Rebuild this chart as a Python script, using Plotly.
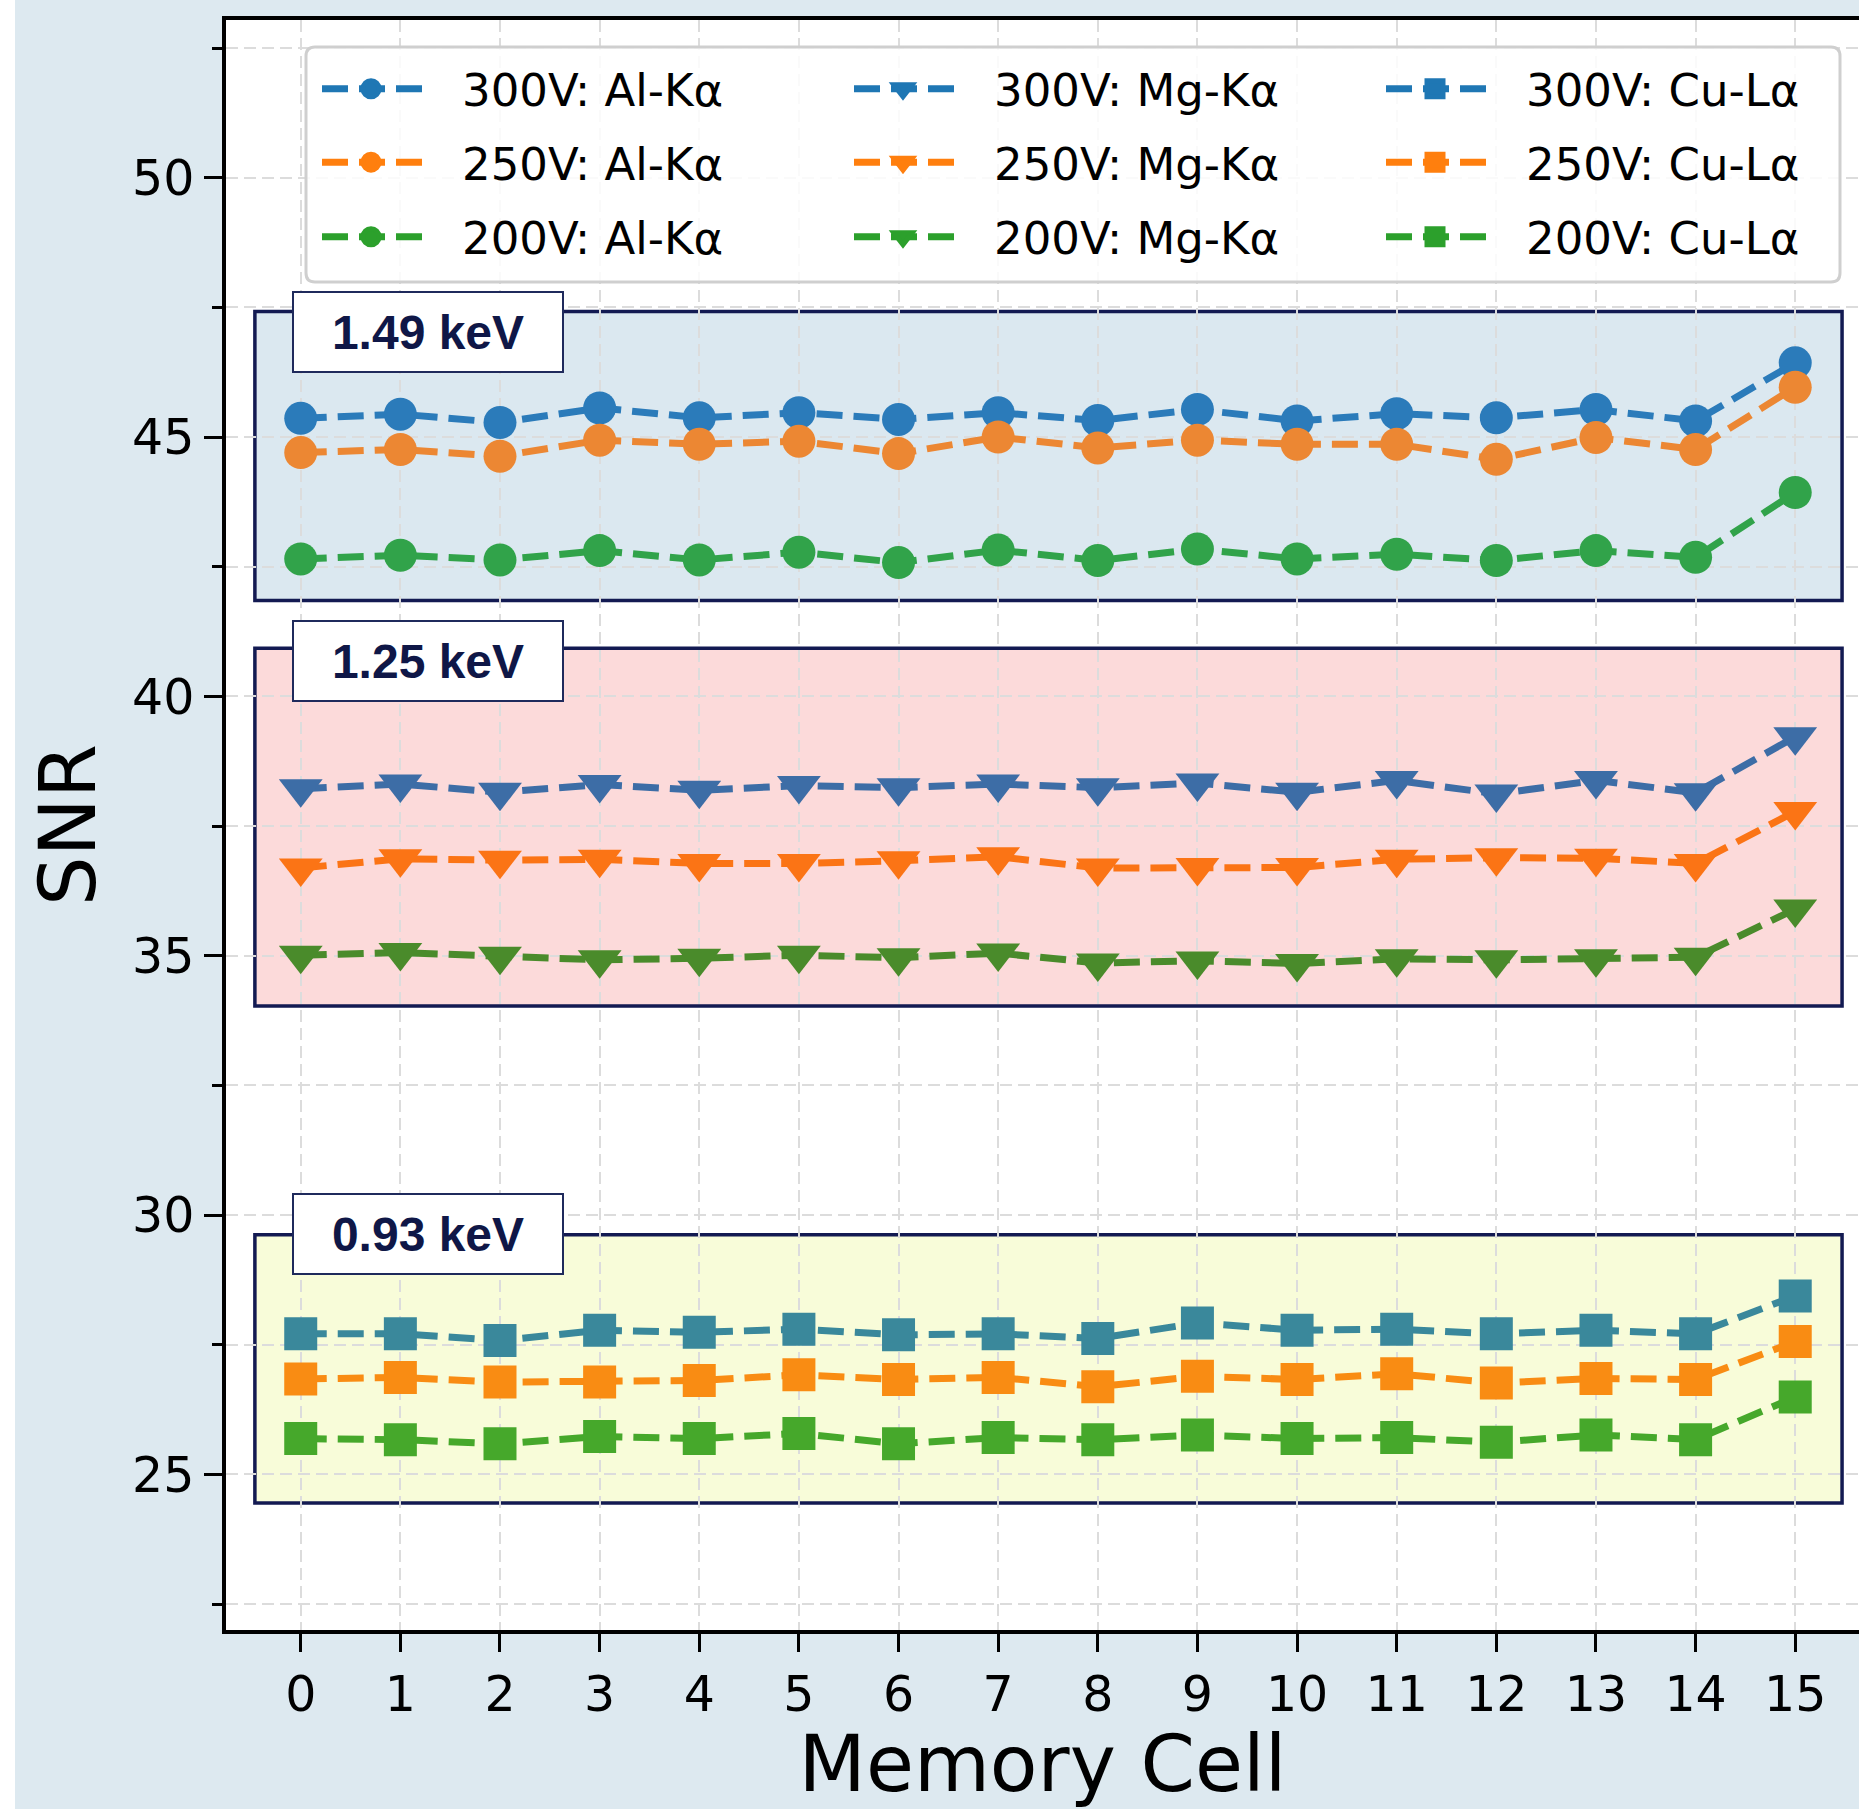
import plotly.graph_objects as go

# ---------------- data ----------------
cells = list(range(16))
cell_labels = [str(c) for c in cells]

al_300 = [45.36, 45.44, 45.28, 45.56, 45.37, 45.47, 45.34, 45.47, 45.32, 45.53, 45.31, 45.45, 45.37, 45.53, 45.31, 46.43]
al_250 = [44.70, 44.76, 44.63, 44.94, 44.86, 44.92, 44.68, 45.00, 44.79, 44.94, 44.86, 44.86, 44.57, 44.99, 44.76, 45.96]
al_200 = [42.65, 42.72, 42.63, 42.81, 42.63, 42.78, 42.58, 42.82, 42.62, 42.84, 42.65, 42.74, 42.62, 42.81, 42.68, 43.93]

mg_300 = [38.22, 38.31, 38.15, 38.30, 38.19, 38.28, 38.24, 38.31, 38.24, 38.33, 38.15, 38.38, 38.12, 38.38, 38.14, 39.22]
mg_250 = [36.69, 36.87, 36.84, 36.86, 36.78, 36.78, 36.83, 36.91, 36.69, 36.70, 36.70, 36.86, 36.89, 36.88, 36.78, 37.78]
mg_200 = [35.01, 35.06, 34.99, 34.92, 34.95, 35.01, 34.96, 35.05, 34.86, 34.90, 34.85, 34.94, 34.92, 34.94, 34.97, 35.90]

cu_300 = [27.71, 27.71, 27.58, 27.78, 27.74, 27.80, 27.69, 27.71, 27.62, 27.92, 27.78, 27.80, 27.71, 27.78, 27.71, 28.44]
cu_250 = [26.84, 26.87, 26.78, 26.78, 26.81, 26.92, 26.83, 26.87, 26.69, 26.89, 26.83, 26.94, 26.76, 26.85, 26.83, 27.56]
cu_200 = [25.69, 25.67, 25.59, 25.73, 25.69, 25.79, 25.59, 25.71, 25.67, 25.76, 25.69, 25.71, 25.62, 25.76, 25.67, 26.49]

voltages = ["300V", "250V", "200V"]
emission_lines = ["Al-Kα", "Mg-Kα", "Cu-Lα"]

region_labels = ["1.49 keV", "1.25 keV", "0.93 keV"]
region_low = [41.85, 34.03, 24.45]
region_high = [47.42, 40.93, 29.62]

y_ticks = [25, 30, 35, 40, 45, 50]

# ---------------- styling ----------------
series = {
    ("300V", "Al-Kα"): al_300, ("250V", "Al-Kα"): al_250, ("200V", "Al-Kα"): al_200,
    ("300V", "Mg-Kα"): mg_300, ("250V", "Mg-Kα"): mg_250, ("200V", "Mg-Kα"): mg_200,
    ("300V", "Cu-Lα"): cu_300, ("250V", "Cu-Lα"): cu_250, ("200V", "Cu-Lα"): cu_200,
}
legend_colors = {"300V": "#1f77b4", "250V": "#ff7f0e", "200V": "#2ca02c"}
marker_colors = {
    "Al-Kα": {"300V": "#2b7bba", "250V": "#ec8733", "200V": "#31a34a"},
    "Mg-Kα": {"300V": "#3d6da6", "250V": "#fb7415", "200V": "#4a8b2b"},
    "Cu-Lα": {"300V": "#3a889b", "250V": "#f98c13", "200V": "#46a82b"},
}
symbols = {"Al-Kα": "circle", "Mg-Kα": "triangle-down", "Cu-Lα": "square"}
msize = {"Al-Kα": 33, "Mg-Kα": 38, "Cu-Lα": 33}
region_fill = ["#dbe8f0", "#fcdada", "#f8fcd9"]
region_edge = "#131a52"
label_tops = [47.82, 41.47, 30.43]
DASH = "26px,11px"
LEGEND_DASH = "0px,37px,26px,11px,26px,11px,26px,200px"
LW = 7
FONT = "DejaVu Sans, Verdana, sans-serif"

W, H = 1859, 1809
ML, MR, MT, MB = 226, 0, 20, 179
PW, PH = W - ML - MR, H - MT - MB

fig = go.Figure()

# data traces
for el in emission_lines:
    for v in voltages:
        fig.add_trace(go.Scatter(
            x=cells, y=series[(v, el)], mode="lines+markers",
            name=f"{v}: {el}", legendgroup=f"{v}{el}", showlegend=False,
            line=dict(color=marker_colors[el][v], width=LW, dash=DASH),
            marker=dict(symbol=symbols[el], size=msize[el], color=marker_colors[el][v],
                        line=dict(width=0)),
        ))

# legend entries (one legend per row)
legend_ids = {"300V": "legend", "250V": "legend2", "200V": "legend3"}
for v in voltages:
    for el in emission_lines:
        fig.add_trace(go.Scatter(
            x=[None], y=[None], mode="lines+markers",
            name=f"{v}: {el}", legendgroup=f"{v}{el}", legend=legend_ids[v],
            line=dict(color=legend_colors[v], width=LW, dash=LEGEND_DASH),
            marker=dict(symbol=symbols[el], size=msize[el], color=legend_colors[v],
                        line=dict(width=5, color=legend_colors[v])),
        ))

# region boxes
shapes = []
for lo, hi, fc in zip(region_low, region_high, region_fill):
    shapes.append(dict(type="rect", xref="x", yref="y", x0=-0.46, x1=15.47, y0=lo, y1=hi,
                       fillcolor=fc, line=dict(color=region_edge, width=3.5), layer="below"))

# legend frame (rounded rect, paper coords)
def px2x(px):
    return (px - ML) / PW
def py2y(py):
    return 1 - (py - MT) / PH

lx0, lx1, ly0, ly1 = px2x(306), px2x(1840), py2y(282), py2y(47)
rx, ry = 9 / PW, 9 / PH
path = (f"M{lx0+rx},{ly1} L{lx1-rx},{ly1} Q{lx1},{ly1} {lx1},{ly1-ry} "
        f"L{lx1},{ly0+ry} Q{lx1},{ly0} {lx1-rx},{ly0} L{lx0+rx},{ly0} "
        f"Q{lx0},{ly0} {lx0},{ly0+ry} L{lx0},{ly1-ry} Q{lx0},{ly1} {lx0+rx},{ly1} Z")
shapes.append(dict(type="path", xref="paper", yref="paper", path=path,
                   fillcolor="rgba(255,255,255,0.85)", line=dict(color="#cfcfcf", width=3),
                   layer="above"))
# white strip at left edge of the figure
shapes.append(dict(type="rect", xref="paper", yref="paper", x0=px2x(0), x1=px2x(15),
                   y0=py2y(H), y1=py2y(0), fillcolor="white", line=dict(width=0), layer="above"))

annotations = []
for lab, top in zip(region_labels, label_tops):
    annotations.append(dict(
        x=-0.09, y=top, xref="x", yref="y", xanchor="left", yanchor="top",
        text=f"<b>{lab}</b>", showarrow=False, width=268, height=78,
        bgcolor="white", bordercolor="#1f2a5c", borderwidth=2, borderpad=0,
        font=dict(family="Liberation Sans, Arial, sans-serif", size=48, color="#0f1747"),
        align="center", valign="middle",
    ))

ITEMW = 172
legend_common = dict(
    orientation="h", xanchor="left", yanchor="middle", x=px2x(280),
    bgcolor="rgba(0,0,0,0)", borderwidth=0, traceorder="normal",
    font=dict(family=FONT, size=45, color="black"),
    entrywidth=532 - ITEMW - 15, entrywidthmode="pixels", itemwidth=ITEMW,
)
row_centers = [89, 162.4, 237]

axis_font = dict(family=FONT, size=49, color="black")
fig.update_layout(
    width=W, height=H,
    margin=dict(l=ML, r=MR, t=MT, b=MB, autoexpand=False),
    paper_bgcolor="#dde9f0", plot_bgcolor="white",
    font=dict(family=FONT, color="black"),
    shapes=shapes, annotations=annotations,
    legend=dict(**legend_common, y=py2y(row_centers[0])),
    legend2=dict(**legend_common, y=py2y(row_centers[1])),
    legend3=dict(**legend_common, y=py2y(row_centers[2])),
    xaxis=dict(
        range=[-0.75, 15.64], tickmode="array", tickvals=cells, ticktext=cell_labels,
        showline=True, linecolor="black", linewidth=3.5, mirror=True,
        ticks="outside", ticklen=18, tickwidth=3, tickcolor="black",
        tickfont=axis_font, showgrid=True, gridcolor="#dcdcdc", gridwidth=2, griddash="12px,6px",
        zeroline=False,
        title=dict(text="Memory Cell", font=dict(family=FONT, size=78, color="black"), standoff=16),
    ),
    yaxis=dict(
        range=[22.0, 53.04], tickmode="array", tickvals=y_ticks,
        showline=True, linecolor="black", linewidth=3.5, mirror=False,
        ticks="outside", ticklen=18, tickwidth=3, tickcolor="black",
        tickfont=axis_font, showgrid=True, gridcolor="#dcdcdc", gridwidth=2, griddash="12px,6px",
        zeroline=False,
        minor=dict(dtick=2.5, tick0=0, ticks="outside", ticklen=10, tickwidth=2.5, tickcolor="black",
                   showgrid=True, gridcolor="#dcdcdc", gridwidth=2, griddash="12px,6px"),
        title=dict(text="SNR", font=dict(family=FONT, size=78, color="black"), standoff=12),
    ),
)

fig.write_html("out.html", config={"displayModeBar": False},
               post_script="document.body.style.margin='0';")
